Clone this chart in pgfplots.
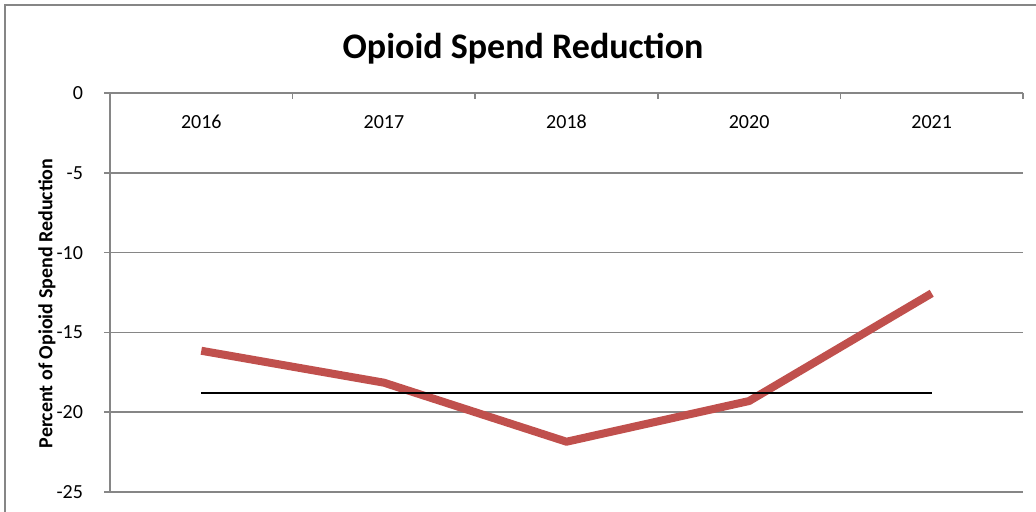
\documentclass[border=0pt]{standalone}
\usepackage{fontspec}
\setmainfont{Carlito}
\usepackage{pgfplots}
\pgfplotsset{compat=1.18}
\definecolor{gridgray}{RGB}{134,134,134}
\definecolor{linered}{RGB}{192,80,77}
\begin{document}
\begin{tikzpicture}
\useasboundingbox (-55pt,-10pt) rectangle (463pt,246pt);
% outer chart border
\draw[gridgray, line width=0.75pt] (-52.5pt,-12pt) -- (-52.5pt,243.5pt) -- (465pt,243.5pt);
\begin{axis}[
  at={(0,0)}, anchor=south west,
  scale only axis,
  width=456.5pt, height=199.5pt,
  xmin=-0.5, xmax=4.5,
  ymin=-25, ymax=0,
  axis x line*=top,
  axis y line*=left,
  axis line style={gridgray, line width=0.75pt},
  xtick={0,1,2,3,4},
  xticklabels={2016,2017,2018,2020,2021},
  major x tick style={draw=none},
  minor xtick={-0.5,0.5,1.5,2.5,3.5,4.5},
  minor x tick style={gridgray, line width=0.75pt},
  x tick style={/pgfplots/tick align=inside},
  minor tick length=3pt,
  xticklabel style={anchor=center, yshift=-14.5pt, font=\fontsize{10pt}{12pt}\selectfont},
  ytick={-25,-20,-15,-10,-5,0},
  yticklabels={-25,-20,-15,-10,-5,0},
  y tick style={gridgray, line width=0.75pt},
  ytick align=outside,
  major tick length=3pt,
  yticklabel style={anchor=east, xshift=-7pt, font=\fontsize{10pt}{12pt}\selectfont},
  ymajorgrids,
  grid style={gridgray, line width=0.75pt},
  clip=false,
]
\addplot[linered, line width=4pt, line join=round] coordinates {
  (0,-16.15) (1,-18.15) (2,-21.85) (3,-19.3) (4,-12.55)
};
\addplot[black, line width=0.8pt] coordinates {(0,-18.8) (4,-18.8)};
\end{axis}
\node[font=\fontsize{18pt}{21pt}\selectfont\bfseries] at (206.5pt,221.5pt) {Opioid Spend Reduction};
\node[rotate=90, font=\fontsize{10pt}{12pt}\selectfont\bfseries] at (-31.5pt,94.25pt) {Percent of Opioid Spend Reduction};
\end{tikzpicture}
\end{document}
